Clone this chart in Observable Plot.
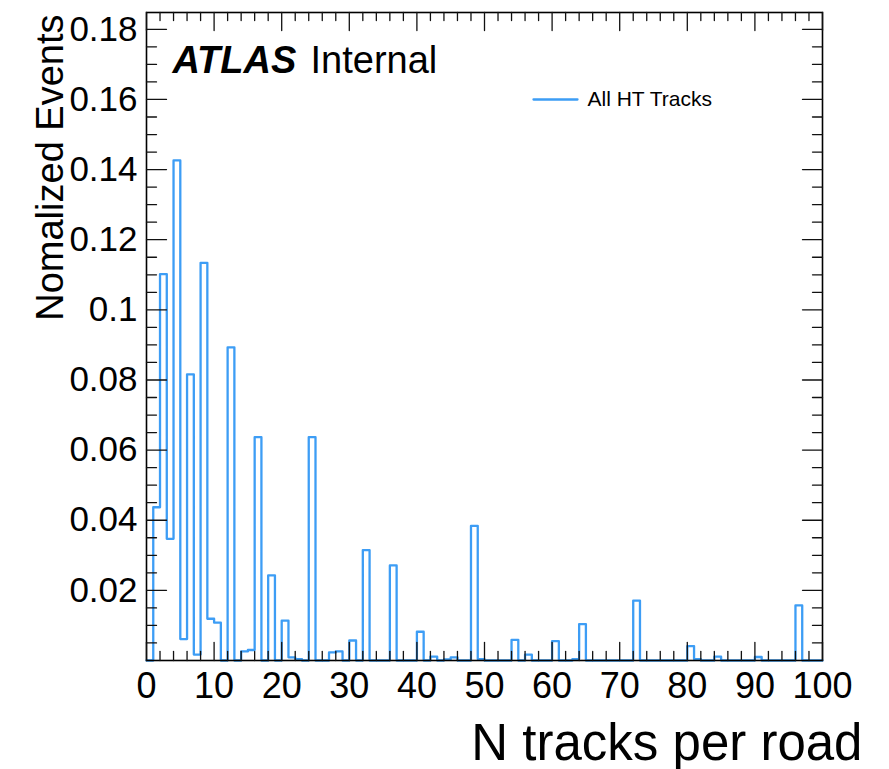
<!DOCTYPE html>
<html>
<head>
<meta charset="utf-8">
<script src="https://cdn.jsdelivr.net/npm/d3@7"></script>
<script src="https://cdn.jsdelivr.net/npm/@observablehq/plot@0.6"></script>
<style>
  html, body { margin: 0; padding: 0; background: #ffffff; }
  #chart svg { display: block; }
</style>
</head>
<body>
<div id="chart"></div>
<script>
// ---- data ----
// Histogram of "N tracks per road", 100 bins of width 1 from 0 to 100
const binValues = [
  0.0000, 0.0437, 0.1102, 0.0347, 0.1426, 0.0061, 0.0816, 0.0017, 0.1134, 0.0119, // 0-9
  0.0108, 0.0000, 0.0893, 0.0000, 0.0026, 0.0030, 0.0637, 0.0000, 0.0243, 0.0000, // 10-19
  0.0114, 0.0009, 0.0004, 0.0000, 0.0637, 0.0000, 0.0000, 0.0023, 0.0026, 0.0000, // 20-29
  0.0057, 0.0000, 0.0315, 0.0000, 0.0000, 0.0000, 0.0271, 0.0000, 0.0000, 0.0000, // 30-39
  0.0082, 0.0000, 0.0011, 0.0000, 0.0003, 0.0009, 0.0000, 0.0000, 0.0384, 0.0004, // 40-49
  0.0000, 0.0000, 0.0000, 0.0000, 0.0059, 0.0000, 0.0017, 0.0000, 0.0000, 0.0000, // 50-59
  0.0055, 0.0000, 0.0000, 0.0004, 0.0104, 0.0000, 0.0000, 0.0000, 0.0000, 0.0000, // 60-69
  0.0000, 0.0000, 0.0171, 0.0000, 0.0000, 0.0000, 0.0000, 0.0000, 0.0000, 0.0000, // 70-79
  0.0041, 0.0004, 0.0000, 0.0000, 0.0011, 0.0000, 0.0000, 0.0000, 0.0000, 0.0000, // 80-89
  0.0010, 0.0000, 0.0000, 0.0000, 0.0000, 0.0000, 0.0157, 0.0000, 0.0000, 0.0000  // 90-99
];
const binWidth = 1;
const seriesName = "All HT Tracks";

const xTicks = [0, 10, 20, 30, 40, 50, 60, 70, 80, 90, 100];
const xTickLabels = ["0", "10", "20", "30", "40", "50", "60", "70", "80", "90", "100"];
const yTicks = [0.02, 0.04, 0.06, 0.08, 0.1, 0.12, 0.14, 0.16, 0.18];
const yTickLabels = ["0.02", "0.04", "0.06", "0.08", "0.1", "0.12", "0.14", "0.16", "0.18"];
const xMinorTicks = d3.range(0, 101, 2).filter(v => v % 10 !== 0);
const yMinorTicks = d3.range(1, 37).filter(i => i % 4 !== 0).map(i => i * 0.005);

const xTitle = "N tracks per road";
const yTitle = "Nomalized Events";
const experiment = "ATLAS";
const status = "Internal";

// ---- derived step outline (ROOT-style histogram) ----
const stepPoints = [{x: 0, y: 0}];
binValues.forEach((v, i) => stepPoints.push({x: i * binWidth, y: v}));
stepPoints.push({x: binValues.length * binWidth, y: 0});

const lineColor = "#3d9df5";
const tickShape = {draw(ctx, l) { ctx.moveTo(0, 0); ctx.lineTo(0, -l); }};
const font = "'Liberation Sans', Arial, Helvetica, sans-serif";

const tickOpts = {shape: tickShape, anchor: "start", stroke: "#111", strokeWidth: 1.3};

const chart = Plot.plot({
  width: 889,
  height: 769,
  marginLeft: 146,
  marginRight: 67,
  marginTop: 12,
  marginBottom: 109,
  style: {fontFamily: font, background: "#ffffff", color: "#000", overflow: "visible"},
  x: {domain: [0, 100]},
  y: {domain: [0, 0.1848]},
  marks: [
    // histogram outline
    Plot.line(stepPoints, {x: "x", y: "y", curve: "step-after", stroke: lineColor, strokeWidth: 2.3}),
    // frame
    Plot.frame({stroke: "#000", strokeWidth: 1.6}),
    // bottom ticks (inward)
    Plot.vector(xTicks, {x: d => d, frameAnchor: "bottom", rotate: 0, length: 18, ...tickOpts}),
    Plot.vector(xMinorTicks, {x: d => d, frameAnchor: "bottom", rotate: 0, length: 9, ...tickOpts}),
    // top ticks
    Plot.vector(xTicks, {x: d => d, frameAnchor: "top", rotate: 180, length: 18, ...tickOpts}),
    Plot.vector(xMinorTicks, {x: d => d, frameAnchor: "top", rotate: 180, length: 8, ...tickOpts}),
    // left ticks
    Plot.vector(yTicks, {y: d => d, frameAnchor: "left", rotate: 90, length: 20, ...tickOpts}),
    Plot.vector(yMinorTicks, {y: d => d, frameAnchor: "left", rotate: 90, length: 10, ...tickOpts}),
    // right ticks
    Plot.vector(yTicks, {y: d => d, frameAnchor: "right", rotate: -90, length: 20, ...tickOpts}),
    Plot.vector(yMinorTicks, {y: d => d, frameAnchor: "right", rotate: -90, length: 10, ...tickOpts}),
    // tick labels
    Plot.axisX(xTicks, {tickSize: 0, tickPadding: 12, fontSize: 36, label: null,
      tickFormat: d => xTickLabels[xTicks.indexOf(d)]}),
    Plot.axisY(yTicks, {tickSize: 0, tickPadding: 9, fontSize: 35, label: null,
      tickFormat: d => yTickLabels[yTicks.indexOf(d)]}),
    // axis titles
    Plot.text([yTitle], {frameAnchor: "top-left", rotate: -90, textAnchor: "end", lineAnchor: "bottom",
      dx: -84, dy: 2, fontSize: 38, fill: "#000"}),
    Plot.text([xTitle], {frameAnchor: "bottom-right", textAnchor: "end", lineAnchor: "bottom",
      dx: 40, dy: 99, fontSize: 51, fill: "#000"}),
    // ATLAS label
    Plot.text([experiment], {frameAnchor: "top-left", textAnchor: "start", lineAnchor: "bottom",
      dx: 26, dy: 60, fontSize: 38, fontWeight: "bold", fontStyle: "italic", fill: "#000"}),
    Plot.text([status], {frameAnchor: "top-left", textAnchor: "start", lineAnchor: "bottom",
      dx: 164, dy: 60, fontSize: 38, fill: "#000"}),
    // legend
    Plot.vector([seriesName], {frameAnchor: "top-left", rotate: 90, length: 44, anchor: "start",
      shape: tickShape, dx: 387, dy: 87, stroke: lineColor, strokeWidth: 2.3}),
    Plot.text([seriesName], {frameAnchor: "top-left", textAnchor: "start", lineAnchor: "middle",
      dx: 441, dy: 87, fontSize: 21, fill: "#000"})
  ]
});

document.getElementById("chart").appendChild(chart);
</script>
</body>
</html>
